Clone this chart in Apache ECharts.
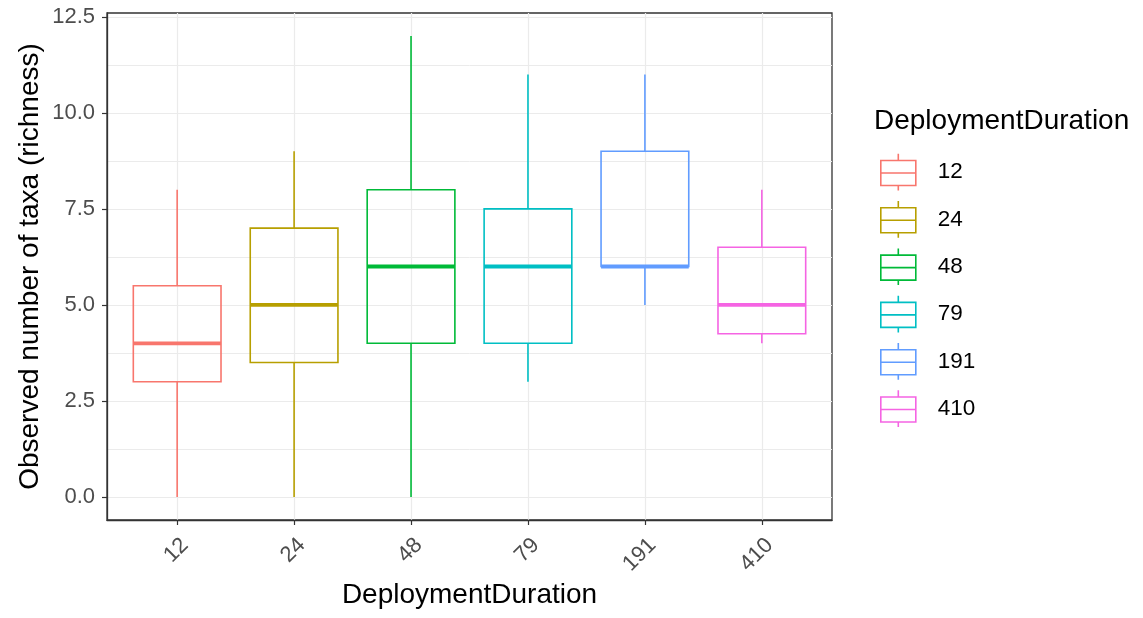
<!DOCTYPE html>
<html>
<head>
<meta charset="utf-8">
<script src="https://cdn.jsdelivr.net/npm/echarts@6/dist/echarts.min.js"></script>
<style>html,body{margin:0;padding:0;background:#fff;}#c{width:1143px;height:618px;}</style>
</head>
<body>
<div id="c"></div>
<script>
const categories = ['12', '24', '48', '79', '191', '410'];
const whiskerLow = [0, 0, 0, 3, 5, 4];
const q1 = [3, 3.5, 4, 4, 6, 4.25];
const median = [4, 5, 6, 6, 6, 5];
const q3 = [5.5, 7, 8, 7.5, 9, 6.5];
const whiskerHigh = [8, 9, 12, 11, 11, 8];
const yMajorTicks = [0, 2.5, 5, 7.5, 10, 12.5];
const yMinorLines = [1.25, 3.75, 6.25, 8.75, 11.25];
const colors = ['#F8766D', '#B79F00', '#00BA38', '#00BFC4', '#619CFF', '#F564E3'];

const FONT = 'Arial, "Liberation Sans", sans-serif';
const xPositions = categories.map((c, i) => i + 1);
const boxHalf = 0.375;

function renderBox(params, api) {
  const x = api.value(0);
  const lo = api.coord([x, api.value(1)]);
  const b1 = api.coord([x, api.value(2)]);
  const md = api.coord([x, api.value(3)]);
  const b3 = api.coord([x, api.value(4)]);
  const hi = api.coord([x, api.value(5)]);
  const left = api.coord([x - boxHalf, api.value(3)])[0];
  const right = api.coord([x + boxHalf, api.value(3)])[0];
  const col = api.visual('color');
  const thin = { stroke: col, lineWidth: 1.6, fill: null };
  return {
    type: 'group',
    children: [
      { type: 'line', shape: { x1: lo[0], y1: lo[1], x2: b1[0], y2: b1[1] }, style: thin },
      { type: 'line', shape: { x1: b3[0], y1: b3[1], x2: hi[0], y2: hi[1] }, style: thin },
      { type: 'rect', shape: { x: left, y: b3[1], width: right - left, height: b1[1] - b3[1] }, style: { stroke: col, lineWidth: 1.6, fill: 'rgba(255,255,255,0)' } },
      { type: 'line', shape: { x1: left, y1: md[1], x2: right, y2: md[1] }, style: { stroke: col, lineWidth: 3.8 } }
    ]
  };
}

const series = categories.map((c, i) => ({
  name: c,
  type: 'custom',
  xAxisIndex: 0,
  yAxisIndex: 0,
  itemStyle: { color: colors[i] },
  encode: { x: 0, y: [1, 2, 3, 4, 5] },
  renderItem: renderBox,
  data: [[xPositions[i], whiskerLow[i], q1[i], median[i], q3[i], whiskerHigh[i]]],
  z: 3
}));

const legendIcon = 'path://M17.5,0L17.5,6.7M0,6.7L35,6.7L35,31.7L0,31.7ZM0,19.2L35,19.2M17.5,31.7L17.5,36.7';

const option = {
  backgroundColor: '#ffffff',
  animation: false,
  textStyle: { fontFamily: FONT },
  title: {
    text: 'DeploymentDuration',
    left: 874, top: 107,
    padding: 0,
    textStyle: { fontFamily: FONT, fontSize: 28, fontWeight: 'normal', color: '#000' }
  },
  legend: {
    orient: 'vertical',
    left: 880, top: 153,
    padding: 0,
    itemWidth: 35, itemHeight: 37, itemGap: 9,
    selectedMode: false,
    textStyle: { fontFamily: FONT, fontSize: 22.5, color: '#000', padding: [0, 0, 0, 17] },
    data: categories.map((c, i) => ({
      name: c,
      icon: legendIcon,
      itemStyle: { color: 'rgba(255,255,255,0)', borderColor: colors[i], borderWidth: 1.6 }
    }))
  },
  grid: {
    left: 107, right: 311, top: 13, bottom: 98,
    show: true, borderColor: '#333333', borderWidth: 1.3, backgroundColor: '#fff',
    outerBoundsMode: 'none', containLabel: false
  },
  xAxis: {
    type: 'value', min: 0.4, max: 6.6,
    name: 'DeploymentDuration', nameLocation: 'middle', nameGap: 61, nameMoveOverlap: false,
    nameTextStyle: { fontFamily: FONT, fontSize: 28, color: '#000' },
    axisLine: { show: true, onZero: false, lineStyle: { color: '#333333', width: 1.3 } },
    axisTick: { show: true, customValues: xPositions, length: 5, lineStyle: { color: '#333333', width: 1.2 } },
    axisLabel: {
      customValues: xPositions, rotate: 45, align: 'right', verticalAlign: 'top', margin: 14,
      fontFamily: FONT, fontSize: 22, color: '#4d4d4d',
      formatter: v => categories[Math.round(v) - 1] || ''
    },
    splitLine: { show: true, lineStyle: { color: '#ebebeb', width: 1.2 } }
  },
  yAxis: [
    {
      type: 'value', min: -0.6, max: 12.6,
      name: 'Observed number of taxa (richness)', nameLocation: 'middle', nameGap: 63, nameRotate: 90, nameMoveOverlap: false,
      nameTextStyle: { fontFamily: FONT, fontSize: 28, color: '#000' },
      axisLine: { show: true, onZero: false, lineStyle: { color: '#333333', width: 1.3 } },
      axisTick: { show: true, customValues: yMajorTicks, length: 5, lineStyle: { color: '#333333', width: 1.2 } },
      axisLabel: {
        customValues: yMajorTicks, margin: 12, fontFamily: FONT, fontSize: 22, color: '#4d4d4d',
        formatter: v => v.toFixed(1)
      },
      splitLine: { show: true, lineStyle: { color: '#ebebeb', width: 1.2 } }
    },
    {
      type: 'value', min: -0.6, max: 12.6,
      axisLine: { show: false, onZero: false },
      axisTick: { show: false, customValues: yMinorLines },
      axisLabel: { show: false, customValues: yMinorLines },
      splitLine: { show: true, lineStyle: { color: '#ebebeb', width: 1 } }
    }
  ],
  series: series
};

const chart = echarts.init(document.getElementById('c'), null, { renderer: 'canvas' });
chart.setOption(option);
</script>
</body>
</html>
